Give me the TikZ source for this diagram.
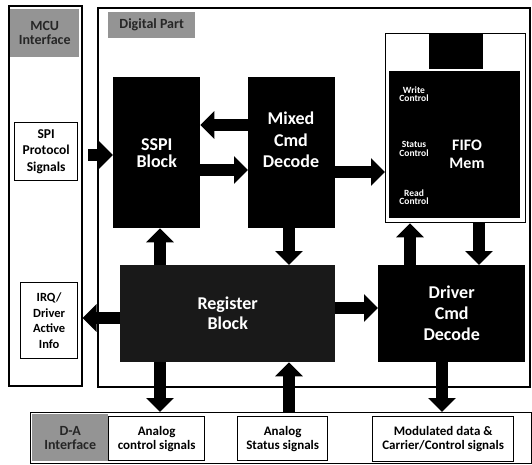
\documentclass[tikz,border=0pt]{standalone}
\usepackage{fontspec}
\setmainfont{Carlito}
\usetikzlibrary{arrows.meta}
\begin{document}
\begin{tikzpicture}[x=1pt,y=-1pt,
  every node/.style={inner sep=0pt, anchor=north west},
  panel/.style={draw=black, line width=1.6pt, fill=white},
  hdr/.style={fill=black!42, text=black!85, align=center, font=\fontsize{14}{14}\selectfont\bfseries},
  blk/.style={fill=black, text=white, align=center, font=\fontsize{18}{21}\selectfont\bfseries},
  wbox/.style={draw=black, line width=1.3pt, fill=white, align=center},
  txt/.style={anchor=center, align=center},
  arr/.style={draw=black, line width=12pt, -{Triangle[width=27pt,length=14pt]}}
]
\useasboundingbox (0,0) rectangle (532,464);
% panels
\node[panel, minimum width=73pt, minimum height=380pt] (mcu) at (8,5) {};
\node[hdr, minimum width=69pt, minimum height=48pt] (mcuh) at (10,9) {MCU\\Interface};
\node[panel, minimum width=432pt, minimum height=379pt] (dig) at (97,7) {};
\node[hdr, minimum width=87pt, minimum height=26pt] (digh) at (108,12) {Digital Part};
% MCU side boxes
\node[wbox, minimum width=63pt, minimum height=58pt, font=\fontsize{13.5}{16.5}\selectfont\bfseries] (spi) at (14,122) {SPI\\Protocol\\Signals};
\node[wbox, minimum width=57pt, minimum height=76pt, font=\fontsize{12.5}{15.5}\selectfont\bfseries] (irq) at (20,282) {IRQ/\\Driver\\Active\\Info};
% blocks
\node[blk, minimum width=87pt, minimum height=151pt, font=\fontsize{18}{17}\selectfont\bfseries] (sspi) at (113,77) {SSPI\\Block};
\node[blk, minimum width=87pt, minimum height=151pt] (mixed) at (248,77) {};
\node[txt, text=white, font=\fontsize{18}{21.5}\selectfont\bfseries] (mixedt) at (291,140) {Mixed\\Cmd\\Decode};
\node[wbox, minimum width=140pt, minimum height=189pt] (fifo) at (385,33) {};
\node[blk, minimum width=54pt, minimum height=36pt] (fifotop) at (429,33) {};
\node[blk, minimum width=131pt, minimum height=147pt] (fifoin) at (389,71) {};
\node[txt, text=white, font=\fontsize{9.5}{8.5}\selectfont\bfseries] (wc) at (414,94) {Write\\Control};
\node[txt, text=white, font=\fontsize{9.5}{8.5}\selectfont\bfseries] (sc) at (414,149) {Status\\Control};
\node[txt, text=white, font=\fontsize{9.5}{8.5}\selectfont\bfseries] (rc) at (414,197) {Read\\Control};
\node[txt, text=white, font=\fontsize{16}{18}\selectfont\bfseries] (fm) at (467,154) {FIFO\\Mem};
\node[blk, fill=black!90, minimum width=215pt, minimum height=97pt, font=\fontsize{18}{20}\selectfont\bfseries] (reg) at (120,265) {Register\\Block};
\node[blk, minimum width=147pt, minimum height=97pt] (drv) at (378,265) {Driver\\Cmd\\Decode};
% D-A interface
\node[panel, line width=1.3pt, minimum width=501pt, minimum height=51pt] (da) at (30,412) {};
\node[hdr, minimum width=76pt, minimum height=47pt] (dah) at (32,414) {D-A\\Interface};
\node[wbox, minimum width=96pt, minimum height=44pt, font=\fontsize{13}{14}\selectfont\bfseries] (ac) at (108,416) {Analog\\control signals};
\node[wbox, minimum width=90pt, minimum height=44pt, font=\fontsize{13}{14}\selectfont\bfseries] (as) at (237,416) {Analog\\Status signals};
\node[wbox, minimum width=141pt, minimum height=45pt, font=\fontsize{13}{14}\selectfont\bfseries] (mod) at (372,416) {Modulated data \&\\Carrier/Control signals};
% arrows
\draw[arr] ([xshift=10pt]spi.east |- 0,155) -- (sspi.west |- 0,155);
\draw[arr] (mixed.west |- 0,125) -- (sspi.east |- 0,125);
\draw[arr] (sspi.east |- 0,170) -- (mixed.west |- 0,170);
\draw[arr] (mixed.east |- 0,172) -- (fifo.west |- 0,172);
\draw[arr] (reg.north -| 160,0) -- (sspi.south -| 160,0);
\draw[arr] (mixed.south -| 289,0) -- (reg.north -| 289,0);
\draw[arr] (reg.east |- 0,308) -- (drv.west |- 0,308);
\draw[arr] (drv.north -| 410,0) -- (fifo.south -| 410,0);
\draw[arr] (fifo.south -| 479,0) -- (drv.north -| 479,0);
\draw[arr] (reg.west |- 0,318) -- (mcu.east |- 0,318);
\draw[arr] (reg.south -| 160,0) -- (da.north -| 160,0);
\draw[arr] (da.north -| 289,0) -- (reg.south -| 289,0);
\draw[arr] (drv.south -| 442,0) -- (da.north -| 442,0);
\end{tikzpicture}
\end{document}
